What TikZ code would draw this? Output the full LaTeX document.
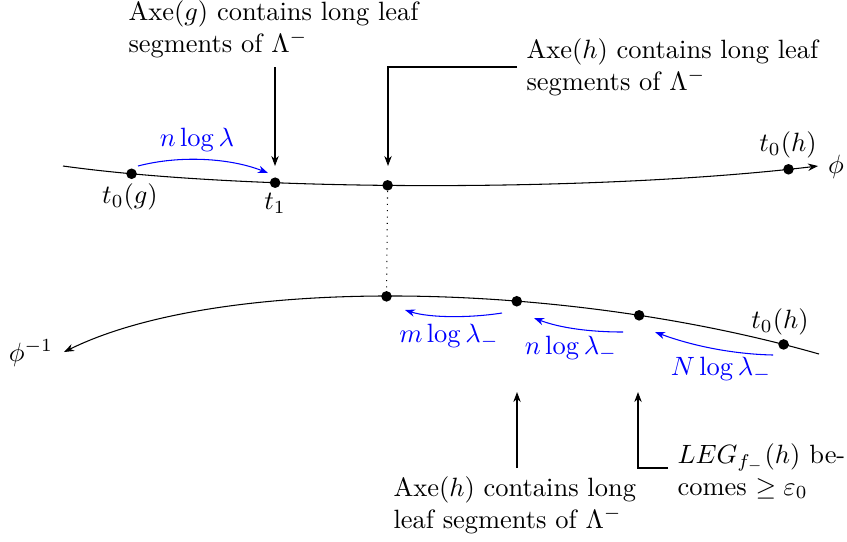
\documentclass[tikz,border=0pt]{standalone}
\usetikzlibrary{arrows.meta}
\begin{document}
\begin{tikzpicture}[x=0.378pt,y=-0.378pt,
  dotpt/.style={circle,fill=black,inner sep=0pt,minimum size=4pt},
  lbl/.style={inner sep=0pt},
  txt/.style={inner sep=0pt,align=left,anchor=base west},
  arr/.style={-{Stealth[length=3.8pt,width=2.8pt]}},
  barr/.style={blue,-{Stealth[length=3.8pt,width=2.8pt]}}]
\useasboundingbox (0,0) rectangle (847,541);
% top curve
\coordinate (ts) at (63,166);
\coordinate (te) at (818,166);
\draw[arr] (ts) .. controls (250,192) and (600,192) .. (te)
  node[dotpt,pos=0.112] (tg) {}
  node[dotpt,pos=0.31] (t1) {}
  node[dotpt,pos=0.45] (tm) {}
  node[dotpt,pos=0.956] (th) {};
% bottom curve
\coordinate (bs) at (819,354);
\coordinate (be) at (64,352);
\draw[arr] (bs) .. controls (560,280) and (220,275) .. (be)
  node[dotpt,pos=0.045] (bh) {}
  node[dotpt,pos=0.22] (b3) {}
  node[dotpt,pos=0.364] (b2) {}
  node[dotpt,pos=0.52] (bm) {};
% dotted
\draw[dotted] (tm) -- (bm);
% labels
\node[lbl] at (130,197) {$t_0(g)$};
\node[lbl] at (275,203) {$t_1$};
\node[lbl] at (788,145) {$t_0(h)$};
\node[lbl] at (836,167) {$\phi$};
\node[lbl] at (780,322) {$t_0(h)$};
\node[lbl] at (31,353) {$\phi^{-1}$};
% top annotations
\node[txt] (A1) at (128,52) {Axe$(g)$ contains long leaf\\segments of $\Lambda^-$};
\coordinate (a1s) at (275,67);
\coordinate (a1e) at (275,166);
\draw[arr] (a1s) -- (a1e);
\node[txt] (A2) at (526,90) {Axe$(h)$ contains long leaf\\segments of $\Lambda^-$};
\coordinate (a2s) at (517,67);
\coordinate (a2c) at (388,67);
\coordinate (a2e) at (388,166);
\draw[arr] (a2s) -- (a2c) -- (a2e);
% bottom annotations
\node[txt] (B1) at (393,528) {Axe$(h)$ contains long\\leaf segments of $\Lambda^-$};
\coordinate (b1s) at (517,468);
\coordinate (b1e) at (517,392);
\draw[arr] (b1s) -- (b1e);
\node[txt] (B2) at (677,495) {$LEG_{f_-}(h)$ be-\\comes $\geq \varepsilon_0$};
\coordinate (b2s) at (668,468);
\coordinate (b2c) at (638,468);
\coordinate (b2e) at (638,392);
\draw[arr] (b2s) -- (b2c) -- (b2e);
% blue arrows
\coordinate (u1) at (138,166);
\coordinate (u2) at (268,173);
\draw[barr] (u1) .. controls (180,155) and (230,158) .. (u2);
\node[lbl,blue] at (197,140) {$n\log\lambda$};
\coordinate (m1) at (502,313);
\coordinate (m2) at (405,310);
\draw[barr] (m1) .. controls (470,318) and (430,318) .. (m2);
\node[lbl,blue] at (449,336) {$m\log\lambda_-$};
\coordinate (n1) at (623,332);
\coordinate (n2) at (534,318);
\draw[barr] (n1) .. controls (590,332) and (560,328) .. (n2);
\node[lbl,blue] at (571,348) {$n\log\lambda_-$};
\coordinate (N1) at (773,355);
\coordinate (N2) at (655,332);
\draw[barr] (N1) .. controls (730,354) and (690,345) .. (N2);
\node[lbl,blue] at (721,369) {$N\log\lambda_-$};
\end{tikzpicture}
\end{document}
